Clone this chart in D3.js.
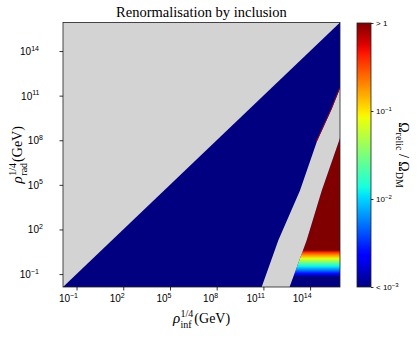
<!DOCTYPE html>
<html><head><meta charset="utf-8">
<script src="https://cdn.jsdelivr.net/npm/d3@7"></script>
<style>
html,body{margin:0;padding:0;background:#fff;}
svg{display:block;font-family:"Liberation Serif","DejaVu Serif",serif;}
</style></head>
<body><svg id="c" width="418" height="338"></svg>
<script>
// ---- data (log10 of GeV values) ----
const axisExtent = [-1.87, 15.92];
const tickExps = [-1, 2, 5, 8, 11, 14];
// left edge (blue -> grey) of the excluded band
const bandLeftInf = [10.89, 11.96, 13.35, 14.43, 15.39, 15.93];
const bandLeftRad = [-1.87, 1.27, 4.62, 7.90, 10.10, 11.51];
// right edge (grey -> relic region) of the excluded band
const bandRightInf = [12.68, 13.78, 14.75, 15.86, 15.92];
const bandRightRad = [-1.87, 1.27, 4.62, 7.96, 8.16];
// relic abundance profile (vs rho_rad) in the region right of the band
const gradRad = [0.61, 0.47, 0.27, 0.04, -0.20, -0.46, -0.73, -0.97, -1.20];
const gradLogOmega = [0, -0.4, -0.75, -1.1, -1.5, -1.9, -2.25, -2.6, -3];
// colour bar
const cbarExps = [0, -1, -2, -3];
const cbarLabels = ["> 1", "10|-1", "10|-2", "< 10|-3"];
const fringeMinRad = 7.0;

// ---- jet colormap ----
function seg(pts, t){
  for(let i=1;i<pts.length;i++){
    if(t<=pts[i][0]){const [x0,y0]=pts[i-1],[x1,y1]=pts[i];return y0+(y1-y0)*(t-x0)/(x1-x0);}
  }
  return pts[pts.length-1][1];
}
function jet(t){
  t=Math.max(0,Math.min(1,t));
  const r=seg([[0,0],[0.35,0],[0.66,1],[0.89,1],[1,0.5]],t);
  const g=seg([[0,0],[0.125,0],[0.375,1],[0.64,1],[0.91,0],[1,0]],t);
  const b=seg([[0,0.5],[0.11,1],[0.34,1],[0.65,0],[1,0]],t);
  return d3.rgb(r*255,g*255,b*255).formatHex();
}
const cnorm = d3.scaleLinear().domain([-3,0]).range([0,1]).clamp(true);

// ---- layout ----
const L=63, T=22.5, W=277, H=264.5;
const svg=d3.select("#c");
const x=d3.scaleLinear().domain(axisExtent).range([L,L+W]);
const y=d3.scaleLinear().domain(axisExtent).range([T+H,T]);
const defs=svg.append("defs");
defs.append("clipPath").attr("id","plotclip").append("rect").attr("x",L).attr("y",T).attr("width",W).attr("height",H);

const plot=svg.append("g").attr("clip-path","url(#plotclip)");
const line=d3.line().x(d=>x(d[0])).y(d=>y(d[1]));
const [lo,hi]=axisExtent;

// background (Omega < 1e-3)
plot.append("rect").attr("x",L).attr("y",T).attr("width",W).attr("height",H).attr("fill",jet(0));
// rho_rad > rho_inf : grey
plot.append("path").attr("d",line([[lo-1,lo-1],[hi+1,hi+1],[lo-1,hi+1]])+"Z").attr("fill","#d3d3d3");

// relic region: right of band
const leftPts=bandLeftInf.map((v,i)=>[v,bandLeftRad[i]]);
const rightPts=bandRightInf.map((v,i)=>[v,bandRightRad[i]]);
const regionPts=[[bandRightInf[0],lo-1],...rightPts,[hi+1,bandRightRad[rightPts.length-1]],[hi+1,lo-1]];
defs.append("clipPath").attr("id","relicclip").append("path").attr("d",line(regionPts)+"Z");
const y1=y(gradRad[0]), y2=y(gradRad[gradRad.length-1]);
const lg=defs.append("linearGradient").attr("id","relicgrad").attr("gradientUnits","userSpaceOnUse")
  .attr("x1",0).attr("x2",0).attr("y1",y1).attr("y2",y2);
gradRad.forEach((r,i)=>{
  lg.append("stop").attr("offset",(y(r)-y1)/(y2-y1)).attr("stop-color",jet(cnorm(gradLogOmega[i])));
});
plot.append("rect").attr("clip-path","url(#relicclip)").attr("x",L).attr("y",T).attr("width",W).attr("height",H).attr("fill","url(#relicgrad)");

// grey excluded band
plot.append("path").attr("d",line([[bandLeftInf[0],lo-1],...leftPts,[hi+1,bandLeftRad[leftPts.length-1]],[hi+1,bandRightRad[rightPts.length-1]],...rightPts.slice().reverse(),[bandRightInf[0],lo-1]])+"Z").attr("fill","#d3d3d3");
// thin red fringe along upper left edge
plot.append("path").attr("d",line(leftPts.filter(p=>p[1]>=fringeMinRad)))
  .attr("fill","none").attr("stroke",jet(0.95)).attr("stroke-width",1)
  .attr("opacity",0.8)
  .attr("transform","translate(-0.6,0)");

// frame
svg.append("rect").attr("x",L).attr("y",T).attr("width",W).attr("height",H).attr("fill","none").attr("stroke","#222").attr("stroke-width",0.8);

// axes
function supLabel(sel, base, exp, fs){
  const t=sel.append("text").attr("font-size",fs).attr("fill","#000");
  t.append("tspan").text(base);
  t.append("tspan").attr("font-size",fs*0.7).attr("dy",-fs*0.45).text(exp.replace("-","\u2212"));
  return t;
}
const xa=svg.append("g").attr("transform",`translate(0,${T+H})`).call(d3.axisBottom(x).tickValues(tickExps).tickSize(3.5).tickFormat(()=>""));
const ya=svg.append("g").attr("transform",`translate(${L},0)`).call(d3.axisLeft(y).tickValues(tickExps).tickSize(3.5).tickFormat(()=>""));
[xa,ya].forEach(a=>{a.select(".domain").remove();a.selectAll(".tick line").attr("stroke","#000").attr("stroke-width",0.8);});
xa.selectAll(".tick").each(function(d){
  const t=supLabel(d3.select(this),"10",String(d),10);
  const w=t.node().getBBox().width;
  t.attr("transform",`translate(${-w/2+1},15)`);
});
ya.selectAll(".tick").each(function(d){
  const t=supLabel(d3.select(this),"10",String(d),10);
  const w=t.node().getBBox().width;
  t.attr("transform",`translate(${-5-w},3.5)`);
});

// rho label
function rhoLabel(g, sub){
  const r=g.append("text").attr("font-size",15).attr("font-style","italic").text("\u03C1");
  const w1=r.node().getComputedTextLength()+0.5;
  const s1=g.append("text").attr("font-size",10).attr("x",w1).attr("y",-6).text("1/4");
  const s2=g.append("text").attr("font-size",10).attr("x",w1).attr("y",4.5).text(sub);
  const w2=Math.max(s1.node().getComputedTextLength(),s2.node().getComputedTextLength());
  const p=g.append("text").attr("font-size",14).attr("x",w1+w2+1).text("(GeV)");
  const tot=w1+w2+1+p.node().getComputedTextLength();
  g.selectAll("text").attr("transform",`translate(${-tot/2},0)`);
}
rhoLabel(svg.append("g").attr("transform",`translate(${L+W/2},323)`),"inf");
rhoLabel(svg.append("g").attr("transform",`translate(22,${T+H/2}) rotate(-90)`),"rad");

// title
svg.append("text").attr("x",L+W/2).attr("y",17).attr("text-anchor","middle").attr("font-size",14.5).text("Renormalisation by inclusion");

// colour bar
const CX=357, CW=14, CT=23, CB=287;
const cy=d3.scaleLinear().domain([-3,0]).range([CB,CT]);
const cg=defs.append("linearGradient").attr("id","cbar").attr("x1",0).attr("x2",0).attr("y1",1).attr("y2",0);
d3.range(0,1.0001,0.02).forEach(t=>cg.append("stop").attr("offset",t).attr("stop-color",jet(t)));
svg.append("rect").attr("x",CX).attr("y",CT).attr("width",CW).attr("height",CB-CT).attr("fill","url(#cbar)").attr("stroke","#222").attr("stroke-width",0.8);
const ca=svg.append("g").attr("transform",`translate(${CX+CW},0)`).call(d3.axisRight(cy).tickValues(cbarExps).tickSize(2.5).tickFormat(()=>""));
ca.select(".domain").remove();
ca.selectAll(".tick line").attr("stroke","#000").attr("stroke-width",0.8);
ca.selectAll(".tick").each(function(d){
  const lab=cbarLabels[cbarExps.indexOf(d)];
  const parts=lab.split("|");
  const t=d3.select(this).append("text").attr("font-size",8).attr("x",5).attr("y",2.5).attr("fill","#000");
  t.append("tspan").text(parts[0]);
  if(parts[1]) t.append("tspan").attr("font-size",6).attr("dy",-3.5).text(parts[1].replace("-","\u2212"));
});
// colour bar label
const cl=svg.append("text").attr("transform",`translate(399,${(CT+CB)/2}) rotate(90)`).attr("text-anchor","middle").attr("font-size",14);
cl.append("tspan").text("\u03A9");
cl.append("tspan").attr("font-size",10).attr("dy",3).text("relic");
cl.append("tspan").attr("dy",-3).text(" / \u03A9");
cl.append("tspan").attr("font-size",10).attr("dy",3).text("DM");
</script></body></html>
